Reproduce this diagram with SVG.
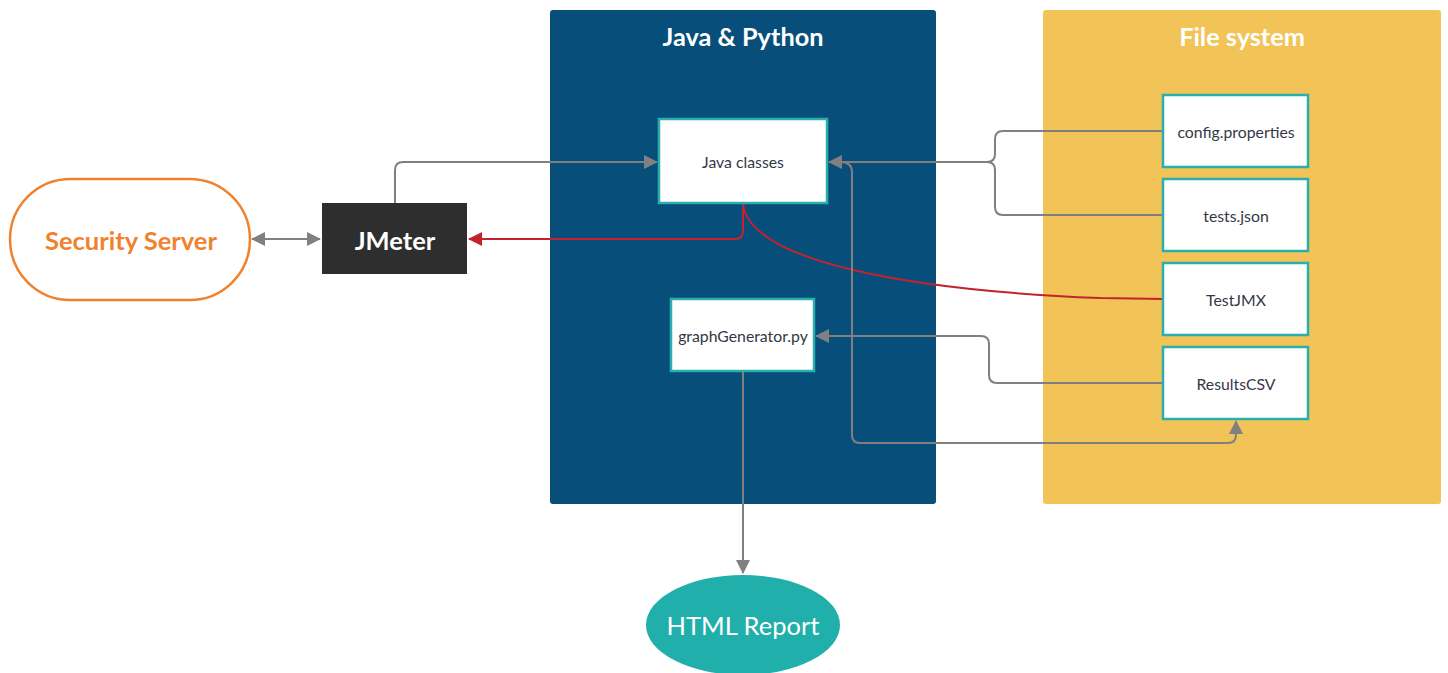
<svg xmlns="http://www.w3.org/2000/svg" width="1448" height="673" viewBox="0 0 1448 673">
<style>
.box{fill:#ffffff;stroke:#2ab0ac;stroke-width:2.5}
.lbl{font-family:Lato,"Noto Sans","Liberation Sans",sans-serif;font-size:15.8px;fill:#333845;text-anchor:middle;dominant-baseline:central}
.big{font-family:Lato,"Noto Sans","Liberation Sans",sans-serif;font-size:25.5px;text-anchor:middle;dominant-baseline:central}
.title{font-family:Lato,"Noto Sans","Liberation Sans",sans-serif;font-size:25.3px;font-weight:bold;fill:#ffffff;text-anchor:middle;dominant-baseline:central}
.c{fill:none;stroke:#808080;stroke-width:2}
.r{fill:none;stroke:#c3222f;stroke-width:2}
</style>
<defs>
<marker id="ga" viewBox="0 0 14 14" refX="13" refY="7" markerWidth="14" markerHeight="14" markerUnits="userSpaceOnUse" orient="auto-start-reverse">
<path d="M0,0 L14,7 L0,14 z" fill="#808080"/>
</marker>
<marker id="ra" viewBox="0 0 14 14" refX="13" refY="7" markerWidth="14" markerHeight="14" markerUnits="userSpaceOnUse" orient="auto-start-reverse">
<path d="M0,0 L14,7 L0,14 z" fill="#c3222f"/>
</marker>
</defs>
<rect width="1448" height="673" fill="#ffffff"/>
<g id="java-python">
<rect x="550" y="10" width="386" height="494" rx="3" fill="#074f7a"/>
<text class="title" x="743" y="36">Java &amp; Python</text>
</g>
<g id="file-system">
<rect x="1043" y="10" width="398" height="494" rx="3" fill="#f2c457"/>
<text class="title" x="1242" y="36">File system</text>
</g>
<g id="connectors">
<path class="c" d="M252,239 L320,239" marker-start="url(#ga)" marker-end="url(#ga)"/>
<path class="c" d="M395,203 L395,170 Q395,162 403,162 L657,162" marker-end="url(#ga)"/>
<path class="r" d="M743,204 L743,231 Q743,239 735,239 L469,239" marker-end="url(#ra)"/>
<path class="r" d="M743,204 C750,260 900,290 1100,298 L1163,299"/>
<path class="c" d="M1163,131 L1003,131 Q995,131 995,139 L995,154 Q995,162 987,162 L829,162" marker-end="url(#ga)"/>
<path class="c" d="M1163,215 L1003,215 Q995,215 995,207 L995,170 Q995,162 987,162"/>
<path class="c" d="M1163,383 L997,383 Q989,383 989,375 L989,344 Q989,336 981,336 L816,336" marker-end="url(#ga)"/>
<path class="c" d="M840,162 Q852,162 852,172 L852,435 Q852,443 860,443 L1228,443 Q1236,443 1236,435 L1236,421" marker-end="url(#ga)"/>
<path class="c" d="M743,371 L743,573" marker-end="url(#ga)"/>
</g>
<g id="security-server">
<rect x="10" y="179" width="240" height="121" rx="60.5" fill="#ffffff" stroke="#f0822e" stroke-width="2.5"/>
<text class="big" x="131" y="240" fill="#f0822e" font-weight="bold">Security Server</text>
</g>
<g id="jmeter">
<rect x="322" y="203" width="145" height="71" fill="#2e2e2e"/>
<text class="big" x="395" y="240" fill="#ffffff" font-weight="bold">JMeter</text>
</g>
<g id="java-classes">
<rect class="box" x="659" y="119" width="168" height="84"/>
<text class="lbl" x="743" y="161">Java classes</text>
</g>
<g id="graph-generator">
<rect class="box" x="671" y="299" width="143" height="72"/>
<text class="lbl" x="743" y="335">graphGenerator.py</text>
</g>
<g id="config-properties">
<rect class="box" x="1163" y="95" width="145" height="72"/>
<text class="lbl" x="1236" y="131">config.properties</text>
</g>
<g id="tests-json">
<rect class="box" x="1163" y="179" width="145" height="72"/>
<text class="lbl" x="1236" y="215">tests.json</text>
</g>
<g id="testjmx">
<rect class="box" x="1163" y="263" width="145" height="72"/>
<text class="lbl" x="1236" y="299">TestJMX</text>
</g>
<g id="results-csv">
<rect class="box" x="1163" y="347" width="145" height="72"/>
<text class="lbl" x="1236" y="383">ResultsCSV</text>
</g>
<g id="html-report">
<ellipse cx="743" cy="625" rx="97" ry="50" fill="#21afab"/>
<text class="big" x="743" y="625" fill="#ffffff">HTML Report</text>
</g>
</svg>
